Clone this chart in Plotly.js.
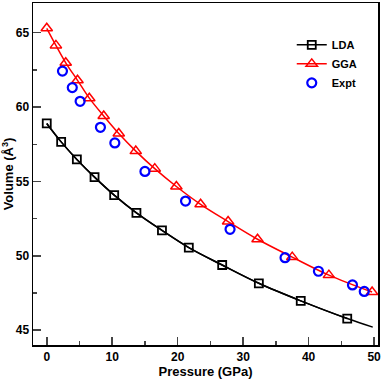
<!DOCTYPE html>
<html>
<head>
<meta charset="utf-8">
<script src="https://cdn.plot.ly/plotly-3.0.1.min.js"></script>
<style>
  html, body { margin: 0; padding: 0; background: #fff; }
  #plot { width: 382px; height: 382px; }
</style>
</head>
<body>
<div id="plot"></div>
<script>
// pressure (GPa) and volume (A^3)
var lda_p = [0, 2.2, 4.6, 7.3, 10.3, 13.7, 17.6, 21.7, 26.8, 32.4, 38.8, 45.9];
var lda_v = [58.9, 57.66, 56.48, 55.29, 54.08, 52.89, 51.71, 50.55, 49.38, 48.15, 46.97, 45.78];

// the LDA fit curve runs a little past the last marker
var lda_fit_p = [0, 2.2, 4.6, 7.3, 10.3, 13.7, 17.6, 21.7, 26.8, 32.4, 38.8, 45.9, 49.8];
var lda_fit_v = [58.9, 57.66, 56.48, 55.29, 54.08, 52.89, 51.71, 50.55, 49.38, 48.15, 46.97, 45.78, 45.2];

var gga_p = [0, 1.4, 2.9, 4.7, 6.5, 8.7, 11.0, 13.6, 16.5, 19.8, 23.5, 27.7, 32.2, 37.5, 43.1, 49.7];
var gga_v = [65.3, 64.15, 62.98, 61.8, 60.6, 59.4, 58.22, 57.04, 55.86, 54.66, 53.46, 52.3, 51.11, 49.91, 48.7, 47.56];

var expt_p = [2.4, 3.9, 5.1, 8.2, 10.4, 15.0, 21.2, 28.0, 36.4, 41.5, 46.7, 48.5];
var expt_v = [62.42, 61.31, 60.39, 58.64, 57.59, 55.67, 53.68, 51.78, 49.87, 48.96, 48.04, 47.6];

var x_ticks = [0, 10, 20, 30, 40, 50];
var y_ticks = [45, 50, 55, 60, 65];

var font_family = 'Liberation Sans, Arial, sans-serif';

var LDA_fit = {
  x: lda_fit_p,
  y: lda_fit_v,
  type: 'scatter',
  mode: 'lines',
  line: {color: '#000000', width: 1.5, shape: 'spline'},
  showlegend: false,
  hoverinfo: 'skip'
};

var LDA = {
  name: 'LDA',
  x: lda_p,
  y: lda_v,
  type: 'scatter',
  mode: 'lines+markers',
  line: {color: '#000000', width: 1.5, shape: 'spline'},
  marker: {symbol: 'square-open', size: 8, color: '#000000', line: {width: 1.8}}
};

var GGA = {
  name: 'GGA',
  x: gga_p,
  y: gga_v,
  type: 'scatter',
  mode: 'lines+markers',
  line: {color: '#ff0000', width: 1.5, shape: 'spline'},
  marker: {symbol: 'triangle-up-open', size: 10, color: '#ff0000', line: {width: 1.5}}
};

var Expt = {
  name: 'Expt',
  x: expt_p,
  y: expt_v,
  type: 'scatter',
  mode: 'markers',
  marker: {symbol: 'circle-open', size: 9, color: '#0000ff', line: {width: 2.2}}
};

var data = [LDA_fit, LDA, GGA, Expt];

var axis_font = {family: font_family, size: 12, color: '#000', weight: 'bold'};
var title_font = {family: font_family, size: 13, color: '#000', weight: 'bold'};

var layout = {
  width: 382,
  height: 382,
  margin: {l: 33, r: 4, t: 3, b: 37},
  paper_bgcolor: '#fff',
  plot_bgcolor: '#fff',
  showlegend: true,
  legend: {
    x: 0.75, y: 0.92, xanchor: 'left', yanchor: 'top',
    bgcolor: 'rgba(0,0,0,0)',
    font: {family: font_family, size: 11, color: '#000', weight: 'bold'},
    itemwidth: 30,
    tracegroupgap: 0
  },
  xaxis: {
    range: [-2.1, 50.6],
    tickvals: x_ticks,
    ticktext: x_ticks.map(String),
    ticks: 'inside',
    ticklen: 8,
    tickwidth: 1.5,
    minor: {dtick: 5, ticks: 'inside', ticklen: 4, tickwidth: 1.5},
    showgrid: false,
    zeroline: false,
    showline: true,
    mirror: true,
    linewidth: 1.5,
    linecolor: '#000',
    tickfont: axis_font,
    title: {text: 'Pressure (GPa)', font: title_font, standoff: 4}
  },
  yaxis: {
    range: [44.0, 67.0],
    tickvals: y_ticks,
    ticktext: y_ticks.map(String),
    ticks: 'inside',
    ticklen: 8,
    tickwidth: 1.5,
    minor: {dtick: 2.5, ticks: 'inside', ticklen: 4, tickwidth: 1.5},
    showgrid: false,
    zeroline: false,
    showline: true,
    mirror: true,
    linewidth: 1.5,
    linecolor: '#000',
    tickfont: axis_font,
    title: {text: 'Volume (Å<sup>3</sup>)', font: title_font, standoff: 4}
  }
};

Plotly.newPlot('plot', data, layout, {displayModeBar: false, staticPlot: true});
</script>
</body>
</html>
